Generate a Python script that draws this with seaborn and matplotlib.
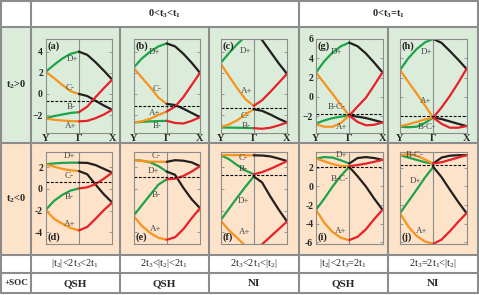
import matplotlib
matplotlib.use("Agg")
import matplotlib.pyplot as plt
import seaborn as sns
from matplotlib.patches import Rectangle

sns.set_theme(style="white")
plt.rcParams["font.family"] = ["Liberation Serif", "DejaVu Serif"]
plt.rcParams["mathtext.fontset"] = "custom"
plt.rcParams["mathtext.rm"] = "Liberation Serif"
plt.rcParams["mathtext.default"] = "regular"

W, H = 479, 295

## k-path: Y -> Gamma -> X
k_yg = [0, 0.25, 0.5, 0.75, 1.0]
k_gx = [1.0, 1.25, 1.5, 1.75, 2.0]

# Y-Gamma bands: green, orange, green, orange
# Gamma-X bands: black, black, red, red
a_yg = [[2.1, 2.75, 3.35, 3.8, 4.0], [2.1, 1.5, 0.85, 0.25, 0.0],
        [-2.3, -2.1, -1.95, -1.8, -1.73], [-2.33, -2.45, -2.52, -2.57, -2.6]]
a_gx = [[4.0, 3.7, 3.0, 2.2, 1.35], [0.0, -0.2, -0.65, -1.1, -1.5],
        [-1.73, -1.2, -0.3, 0.55, 1.35], [-2.6, -2.55, -2.3, -1.95, -1.5]]

b_yg = [[2.48, 3.35, 4.0, 4.5, 4.78], [2.48, 1.55, 0.65, -0.35, -0.95],
        [-2.7, -2.65, -2.6, -2.57, -2.55], [-2.7, -2.6, -2.35, -2.0, -1.67]]
b_gx = [[4.78, 4.5, 3.8, 2.95, 2.0], [-0.95, -1.05, -1.4, -1.8, -2.2],
        [-1.67, -1.2, -0.3, 0.85, 2.0], [-2.55, -2.75, -2.8, -2.55, -2.2]]

c_yg = [[2.9, 3.85, 4.7, 5.45, 6.0], [2.9, 1.7, 0.55, -0.5, -1.13],
        [-3.17, -3.19, -3.2, -3.22, -3.24], [-3.15, -2.9, -2.5, -1.95, -1.45]]
c_gx = [[6.0, 5.1, 4.0, 2.9, 1.9], [-1.45, -1.6, -1.95, -2.35, -2.7],
        [-1.13, -0.6, 0.2, 1.05, 1.9], [-3.24, -3.3, -3.2, -2.98, -2.7]]

g_yg = [[2.54, 3.7, 4.6, 5.25, 5.62], [2.54, 1.4, 0.3, -0.85, -1.95],
        [-2.76, -2.45, -2.2, -2.05, -1.95], [-2.85, -3.1, -3.1, -2.7, -1.95]]
g_gx = [[5.62, 5.25, 4.5, 3.55, 2.54], [-1.95, -2.05, -2.2, -2.42, -2.65],
        [-1.95, -1.0, -0.1, 1.2, 2.54], [-1.95, -2.6, -2.95, -2.9, -2.65]]

h_yg = [[2.78, 4.0, 4.95, 5.65, 6.0], [2.78, 1.55, 0.35, -0.9, -2.15],
        [-3.1, -3.15, -3.1, -2.7, -2.15], [-3.05, -2.85, -2.6, -2.35, -2.15]]
h_gx = [[6.0, 5.6, 4.75, 3.85, 2.9], [-2.15, -2.3, -2.55, -2.8, -3.03],
        [-2.15, -1.1, 0.1, 1.45, 2.9], [-2.15, -2.8, -3.2, -3.2, -3.03]]

d_yg = [[2.27, 2.35, 2.4, 2.42, 2.42], [2.27, 2.05, 1.85, 1.72, 1.65],
        [-1.93, -1.1, -0.55, -0.15, 0.05], [-1.93, -2.75, -3.2, -3.6, -3.82]]
d_gx = [[2.42, 2.4, 2.2, 1.85, 1.5], [1.65, 1.35, 0.4, -0.5, -1.25],
        [0.05, 0.15, 0.45, 0.95, 1.5], [-3.82, -3.5, -2.75, -1.95, -1.25]]

e_yg = [[2.66, 2.6, 2.45, 2.1, 1.6], [2.66, 2.58, 2.52, 2.5, 2.5],
        [-2.48, -1.5, -0.55, 0.4, 0.89], [-2.48, -3.4, -4.05, -4.5, -4.68]]
e_gx = [[2.5, 2.65, 2.6, 2.45, 2.1], [1.6, 1.3, 0.1, -0.95, -1.77],
        [0.89, 0.95, 1.2, 1.6, 2.1], [-4.68, -4.45, -3.7, -2.7, -1.77]]

f_yg = [[3.12, 2.75, 2.2, 1.7, 1.35], [3.12, 3.12, 3.12, 3.1, 3.1],
        [-2.9, -1.85, -0.8, 0.2, 1.15], [-2.9, -3.8, -4.5, -5.25, -5.8]]
f_gx = [[3.1, 3.08, 3.0, 2.8, 2.57], [1.15, 0.6, -0.7, -1.9, -3.0],
        [1.35, 1.55, 1.85, 2.2, 2.57], [-5.8, -5.1, -4.4, -3.7, -3.0]]

i_yg = [[3.0, 3.15, 3.1, 2.8, 2.46], [3.0, 2.7, 2.4, 2.2, 2.17],
        [-2.5, -1.3, 0.0, 1.15, 2.1], [-2.5, -3.9, -4.9, -5.5, -5.75]]
i_gx = [[2.46, 3.05, 3.15, 3.05, 2.85], [2.1, 1.1, 0.0, -1.3, -2.5],
        [2.17, 2.3, 2.45, 2.65, 2.85], [-5.75, -5.4, -4.6, -3.5, -2.5]]

j_yg = [[3.36, 3.1, 2.85, 2.6, 2.46], [3.36, 3.45, 3.3, 2.9, 2.46],
        [-2.86, -1.6, -0.35, 0.95, 2.1], [-2.86, -4.3, -5.3, -5.9, -6.15]]
j_gx = [[2.46, 3.1, 3.3, 3.35, 3.36], [2.1, 1.0, -0.35, -1.65, -2.86],
        [2.46, 2.6, 2.85, 3.1, 3.36], [-6.15, -5.7, -4.8, -3.8, -2.86]]

# Fermi levels (dashed)
fermi = {"a": -0.63, "b": -1.13, "c": -1.35, "g": -1.8, "h": -2.0,
         "d": 0.61, "e": 1.07, "f": 1.3, "i": 2.07, "j": 2.25}

# band labels (k, E, text)
a_lbl = [(0.80, 3.27, "D+"), (0.74, 0.53, "C-"), (0.77, -1.26, "B-"), (0.74, -3.0, "A+")]
b_lbl = [(0.64, 3.93, "D+"), (0.70, 0.44, "C-"), (0.64, -1.76, "A+"), (0.72, -3.08, "B-")]
c_lbl = [(0.75, 4.06, "D+"), (0.78, 0.31, "A+"), (0.73, -2.05, "C-"), (0.78, -3.08, "B-")]
g_lbl = [(0.61, 4.68, "D+"), (0.61, -1.1, "B-C-"), (0.78, -3.17, "A+")]
h_lbl = [(0.80, 4.68, "D+"), (0.77, -0.44, "A+"), (0.80, -3.1, "B-C-")]
d_lbl = [(0.71, 3.03, "D+"), (0.71, 1.19, "C-"), (0.71, -0.7, "B-"), (0.71, -3.24, "A+")]
e_lbl = [(0.68, 3.06, "C-"), (0.61, 1.68, "D+"), (0.68, -0.55, "B-"), (0.68, -3.7, "A+")]
f_lbl = [(0.67, 2.87, "C-"), (0.67, 1.83, "B-"), (0.70, -1.1, "D+"), (0.73, -3.97, "A+")]
i_lbl = [(0.76, 3.33, "D+"), (0.71, 0.81, "B-C-"), (0.73, -4.78, "A+")]
j_lbl = [(0.45, 3.36, "B-C-"), (0.48, 0.55, "D+"), (0.65, -4.78, "A+")]

ylims = {"a": (-3.7, 5.2), "b": (-3.7, 5.2), "c": (-3.7, 5.2),
         "g": (-3.75, 6.0), "h": (-3.75, 6.0),
         "d": (-5.1, 3.45), "e": (-5.1, 3.45), "f": (-5.1, 3.45),
         "i": (-6.2, 3.75), "j": (-6.2, 3.75)}

yticks_top = [4, 2, 0, -2]
yticks_g = [6, 4, 2, 0, -2]
yticks_bot = [2, 0, -2, -4]
yticks_i = [2, 0, -2, -4, -6]

GREEN, ORANGE, RED, BLACK = "#1fa34a", "#f7941d", "#e8202a", "#231f20"
GRID = "#8c8c8c"
BG_GREEN, BG_ORANGE = "#dcecda", "#fde3c9"

fig = plt.figure(figsize=(W / 100, H / 100), dpi=100)

## table background in pixel coords
bg = fig.add_axes([0, 0, 1, 1], zorder=-1)
bg.set_xlim(0, W)
bg.set_ylim(H, 0)
bg.axis("off")
bg.add_patch(Rectangle((1, 27), 477, 116, color=BG_GREEN, lw=0))
bg.add_patch(Rectangle((1, 143), 477, 112, color=BG_ORANGE, lw=0))
xs = [31, 120, 209, 299, 388]
for yy in [1, 27, 143, 255, 273, 293]:
    bg.plot([1, 478], [yy, yy], color=GRID, lw=1.5)
for xx in [1, 478]:
    bg.plot([xx, xx], [1, 293], color=GRID, lw=1.5)
for xx in xs:
    top = 1 if xx in (31, 299) else 27
    bg.plot([xx, xx], [top, 293], color=GRID, lw=1.5)

hdr = dict(ha="center", va="center", fontsize=7.5, fontweight="bold")
bg.text(165, 14, "0<t$_3$<t$_1$", **hdr)
bg.text(388.5, 14, "0<t$_3$=t$_1$", **hdr)
bg.text(16, 85, "t$_2$>0", **hdr)
bg.text(16, 199, "t$_2$<0", **hdr)
bg.text(16, 283, "+SOC", ha="center", va="center", fontsize=6.5, fontweight="bold")

regimes = ["|t$_2$|<2t$_3$<2t$_1$", "2t$_3$<|t$_2$|<2t$_1$", "2t$_3$<2t$_1$<|t$_2$|",
           "|t$_2$|<2t$_3$=2t$_1$", "2t$_3$=2t$_1$<|t$_2$|"]
phases = ["QSH", "QSH", "NI", "QSH", "NI"]
centers = [75.5, 164.5, 254, 343.5, 433]
for cx, r, p in zip(centers, regimes, phases):
    bg.text(cx, 264, r, ha="center", va="center", fontsize=7.5)
    bg.text(cx, 283.5, p, ha="center", va="center", fontsize=8, fontweight="bold")

## band panels
col_left = {"a": 45.7, "b": 133.5, "c": 220.5, "g": 316, "h": 400,
            "d": 45.7, "e": 133.5, "f": 220.5, "i": 316, "j": 400}
panels = [("a", a_yg, a_gx, a_lbl, 0), ("b", b_yg, b_gx, b_lbl, 0), ("c", c_yg, c_gx, c_lbl, 0),
          ("g", g_yg, g_gx, g_lbl, 0), ("h", h_yg, h_gx, h_lbl, 0),
          ("d", d_yg, d_gx, d_lbl, 1), ("e", e_yg, e_gx, e_lbl, 1), ("f", f_yg, f_gx, f_lbl, 1),
          ("i", i_yg, i_gx, i_lbl, 1), ("j", j_yg, j_gx, j_lbl, 1)]

for name, yg, gx, lbls, row in panels:
    top, bot = (39, 133) if row == 0 else (151.5, 244.3)
    ax = fig.add_axes([col_left[name] / W, 1 - bot / H, 66.5 / W, (bot - top) / H])
    ax.patch.set_alpha(0)
    for vals, c in zip(yg, [GREEN, ORANGE, GREEN, ORANGE]):
        sns.lineplot(x=k_yg, y=vals, color=c, lw=1.6, ax=ax)
    for vals, c in zip(gx, [BLACK, BLACK, RED, RED]):
        sns.lineplot(x=k_gx, y=vals, color=c, lw=1.6, ax=ax)
    ax.axvline(1, color=GRID, lw=0.8, zorder=0)
    ax.axhline(fermi[name], color="black", ls=(0, (2.5, 1.5)), lw=0.8)
    ax.set_xlim(0, 2)
    ax.set_ylim(*ylims[name])
    for kx, ey, t in lbls:
        ax.text(kx, ey, t, ha="center", va="center", fontsize=6.5, color="#444444")
    lo, hi = ylims[name]
    if row == 0:
        ax.text(0.06, hi - 0.03 * (hi - lo), "(%s)" % name, ha="left", va="top",
                fontsize=7.5, fontweight="bold", color="#222222")
    else:
        ax.text(0.06, lo + 0.03 * (hi - lo), "(%s)" % name, ha="left", va="bottom",
                fontsize=7.5, fontweight="bold", color="#222222")
    for s in ax.spines.values():
        s.set_color(GRID)
        s.set_linewidth(0.8)
    if name in ("a", "b", "c"):
        ticks = yticks_top
    elif name in ("g", "h"):
        ticks = yticks_g
    elif name in ("d", "e", "f"):
        ticks = yticks_bot
    else:
        ticks = yticks_i
    ax.set_yticks(ticks)
    if name in ("a", "g"):
        ax.set_yticklabels([str(t).replace("-", "\u2212") for t in ticks], fontweight="bold")
    elif name in ("d", "i"):
        ax.set_yticklabels([str(t) for t in ticks], fontweight="bold")
    else:
        ax.set_yticklabels([])
    if row == 0:
        ax.set_xticks([0, 1, 2])
        ax.set_xticklabels(["Y", "\u0393", "X"], fontweight="bold", fontsize=7.5)
    else:
        ax.set_xticks([])
    ax.tick_params(axis="y", direction="in", length=2, width=0.6, color=GRID,
                   labelsize=7, pad=2, left=True, right=True)
    ax.tick_params(axis="x", length=0, pad=1)
    ax.set_xlabel("")
    ax.set_ylabel("")

fig.savefig("out.png", dpi=100)
